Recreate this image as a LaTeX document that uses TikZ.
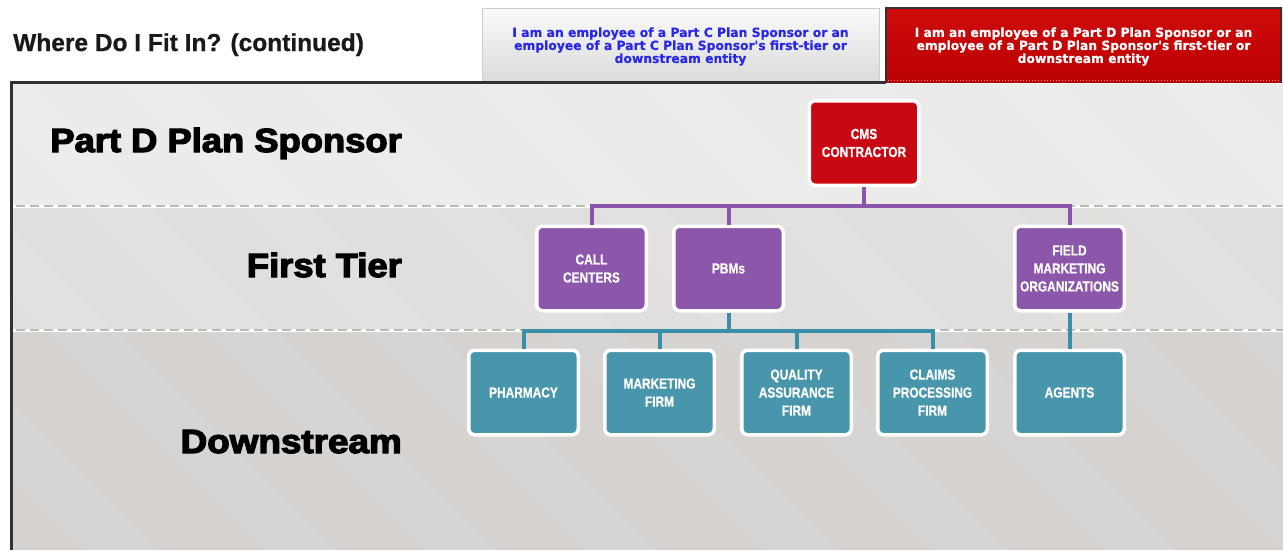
\documentclass[tikz,border=0pt]{standalone}
\usepackage{fontspec}
\setmainfont{Liberation Sans}
\newfontfamily\cond{Liberation Sans}[FakeStretch=0.82, FakeBold=0.6]
\newfontfamily\heavy{Liberation Sans}[FakeBold=3.5]
\newfontfamily\tabf{DejaVu Sans}[FakeStretch=0.97, FakeBold=0.5]
\newfontfamily\titlef{Liberation Sans}[FakeBold=0.8]
\usetikzlibrary{shadows}
\definecolor{cmsred}{RGB}{200,8,18}
\definecolor{fpurple}{RGB}{140,86,170}
\definecolor{dteal}{RGB}{72,150,172}
\definecolor{lpurple}{RGB}{138,84,168}
\definecolor{lteal}{RGB}{58,143,168}
\definecolor{bandA}{RGB}{235,235,233}
\definecolor{bandB}{RGB}{225,223,221}
\definecolor{bandC}{RGB}{213,210,208}
\definecolor{tabblue}{RGB}{40,40,230}
\definecolor{tabred}{RGB}{204,0,0}
\definecolor{framecol}{RGB}{50,50,50}
\begin{document}
\begin{tikzpicture}[x=1pt,y=-1pt,
  orgbox/.style={draw=white, line width=3.5pt, rounded corners=6pt,
    minimum width=109.5pt, minimum height=84.5pt, inner sep=2pt,
    align=center, text=white,
    font=\cond\bfseries\fontsize{14.5}{18}\selectfont,
    drop shadow={opacity=0.25, shadow xshift=0.8pt, shadow yshift=-0.8pt}},
  redbox/.style={orgbox, fill=cmsred},
  purplebox/.style={orgbox, fill=fpurple},
  tealbox/.style={orgbox, fill=dteal},
  pline/.style={lpurple, line width=4pt},
  tline/.style={lteal, line width=4pt},
  tierlabel/.style={anchor=base east, inner sep=0pt, text=black,
    font=\heavy\bfseries\fontsize{33.5}{36}\selectfont},
  tabtext/.style={align=center, inner sep=0pt,
    font=\tabf\bfseries\fontsize{12.7}{13}\selectfont},
  sepline/.style={white, line width=3pt},
  sepdash/.style={gray!55, line width=1.3pt, dash pattern=on 9pt off 5pt}
]
\useasboundingbox (0,0) rectangle (1283,550);
\fill[white] (0,0) rectangle (1283,550);

% title
\node[anchor=base west, inner sep=0pt, text=black!90,
  font=\titlef\bfseries\fontsize{24.5}{28}\selectfont] (title) at (13,51)
  {Where Do I Fit In? (continued)};

% tab 1
\shade[top color=gray!4, bottom color=gray!28] (482,8) rectangle (879,81);
\draw[gray!40, line width=0.8pt] (482,81) -- (482,8) -- (879,8) -- (879,81);
\node[tabtext, text=tabblue] (tabc) at (680.5,46.5)
  {I am an employee of a Part C Plan Sponsor or an\\
   employee of a Part C Plan Sponsor's first-tier or\\
   downstream entity};

% tab 2
\shade[top color=tabred!95!white, bottom color=tabred!92!black] (885,7) rectangle (1282,82);
\draw[framecol, line width=2.5pt] (886.2,82) -- (886.2,8.2) -- (1280.8,8.2) -- (1280.8,82);
\draw[white!60!tabred, line width=1pt, dotted] (888,80) -- (1279,80);
\node[tabtext, text=white] (tabd) at (1083.5,46.5)
  {I am an employee of a Part D Plan Sponsor or an\\
   employee of a Part D Plan Sponsor's first-tier or\\
   downstream entity};

% bands
\fill[bandA] (13,84) rectangle (1283,206);
\fill[bandB] (13,206) rectangle (1283,330);
\fill[bandC] (13,330) rectangle (1283,550);
\begin{scope}
  \clip (13,84) rectangle (1283,550);
  \foreach \x in {-380,-200,-40,120,300,470,640,820,990,1160}
    \fill[white, opacity=0.07] (\x,84) -- ++(70,0) -- ++(466,466) -- ++(-70,0) -- cycle;
\end{scope}
\draw[sepline] (13,206) -- (1283,206);
\draw[sepdash] (16,206) -- (1283,206);
\draw[sepline] (13,330) -- (1283,330);
\draw[sepdash] (16,330) -- (1283,330);

% frame
\draw[framecol, line width=3pt] (11.5,550) -- (11.5,82.5) -- (886,82.5);

% tier labels
\node[tierlabel] (lblsponsor) at (402,152) {\scalebox{1.085}[1]{Part D Plan Sponsor}};
\node[tierlabel] (lblfirst) at (402,277) {\scalebox{1.085}[1]{First Tier}};
\node[tierlabel] (lbldown) at (402,453) {\scalebox{1.1}[1]{Downstream}};

% boxes
\node[redbox] (cms) at (864,143) {CMS\\CONTRACTOR};
\node[purplebox] (call) at (591.5,268.5) {CALL\\CENTERS};
\node[purplebox] (pbm) at (728.5,268.5) {PBMs};
\node[purplebox] (field) at (1069.5,268.5) {FIELD\\MARKETING\\ORGANIZATIONS};
\node[tealbox] (pharm) at (523.5,392.5) {PHARMACY};
\node[tealbox] (mkt) at (659.5,392.5) {MARKETING\\FIRM};
\node[tealbox] (qa) at (796.5,392.5) {QUALITY\\ASSURANCE\\FIRM};
\node[tealbox] (claims) at (932.5,392.5) {CLAIMS\\PROCESSING\\FIRM};
\node[tealbox] (agents) at (1069.5,392.5) {AGENTS};

% connectors
\coordinate (pj) at (864,206);
\coordinate (tj) at (728.5,331);
\draw[pline] (cms.south) -- (pj);
\draw[pline] (call.north) |- (pj) -| (field.north);
\draw[pline] (pbm.north) -- (pbm.north |- pj);
\draw[tline] (pbm.south) -- (tj);
\draw[tline] (pharm.north) |- (tj) -| (claims.north);
\draw[tline] (mkt.north) -- (mkt.north |- tj);
\draw[tline] (qa.north) -- (qa.north |- tj);
\draw[tline] (field.south) -- (agents.north);
\end{tikzpicture}
\end{document}
